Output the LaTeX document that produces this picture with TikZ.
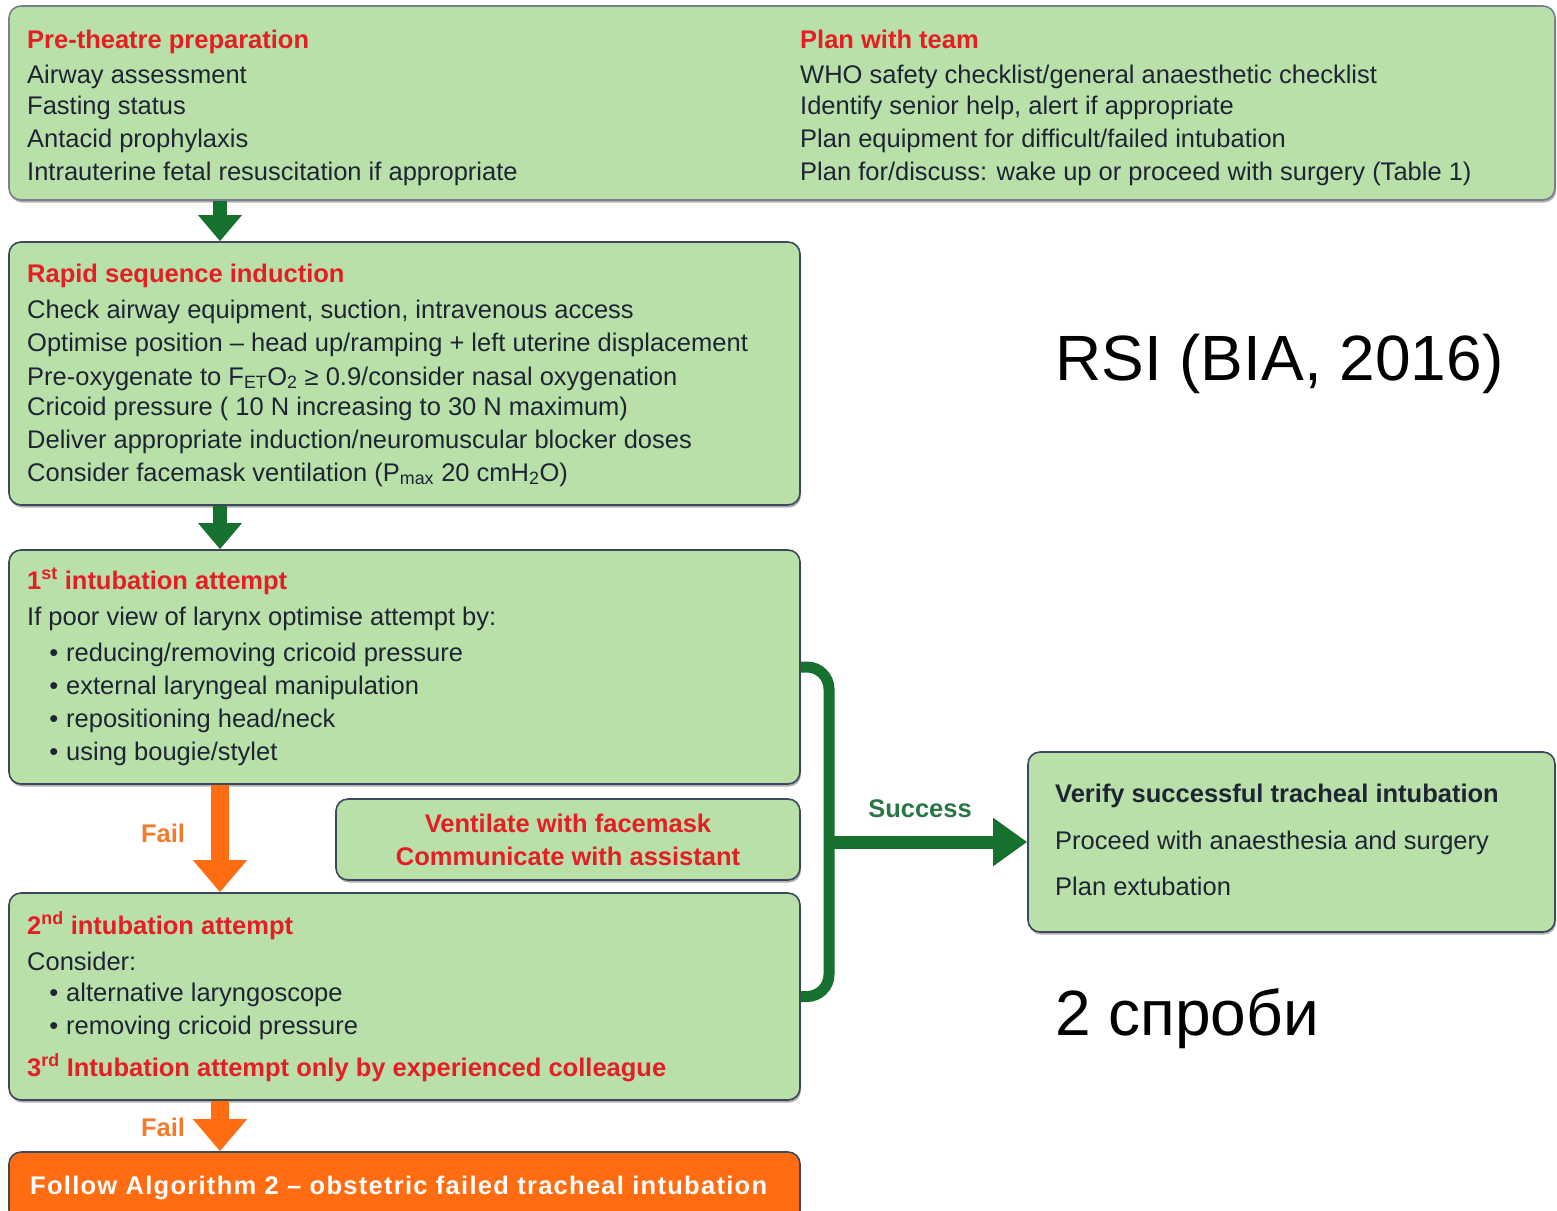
\documentclass[tikz,border=0pt]{standalone}
\usepackage{fontspec}
\setmainfont{Liberation Sans}
\usetikzlibrary{arrows.meta,shadows}

\definecolor{boxfill}{RGB}{185,224,168}
\definecolor{boxline}{RGB}{62,72,92}
\definecolor{ink}{RGB}{30,36,52}
\definecolor{headred}{RGB}{228,30,36}
\definecolor{flowgreen}{RGB}{22,112,46}
\definecolor{succgreen}{RGB}{40,120,70}
\definecolor{flowora}{RGB}{255,108,18}
\definecolor{failora}{RGB}{246,122,44}

\newcommand\bodyfont{\fontsize{25.5}{30}\selectfont}
\newcommand\bigfont{\fontsize{64}{76}\selectfont}

\begin{document}
\begin{tikzpicture}[x=1pt,y=-1pt,
  box/.style={draw=boxline, line width=1.6pt, fill=boxfill, rounded corners=12pt,
    inner sep=0pt, drop shadow={shadow xshift=1pt, shadow yshift=-2.5pt, fill=black!70, opacity=0.45}},
  txt/.style={anchor=base west, inner sep=0pt, font=\bodyfont, text=ink},
  hd/.style={anchor=base west, inner sep=0pt, font=\bodyfont\bfseries, text=headred},
  garrow/.style={draw=flowgreen, line width=14pt, -{Triangle[width=42pt,length=26pt]}},
  oarrow/.style={draw=flowora, line width=18pt, -{Triangle[width=52pt,length=32pt]}},
  bracket/.style={draw=flowgreen, line width=11pt, rounded corners=22pt},
  bigtxt/.style={anchor=base west, inner sep=0pt, font=\bigfont, text=black}]

\useasboundingbox (0,0) rectangle (1557,1210);

% ---------- boxes ----------
\node[box, draw=boxline!70, minimum width=1546pt, minimum height=194pt] (pre) at (782,103) {};
\node[box, minimum width=791pt, minimum height=263pt] (rsi) at (404.5,373.5) {};
\node[box, minimum width=791pt, minimum height=234pt] (first) at (404.5,667) {};
\node[box, minimum width=464pt, minimum height=81pt] (vent) at (568,839.5) {};
\node[box, minimum width=791pt, minimum height=207pt] (second) at (404.5,996.5) {};
\node[box, fill=flowora, minimum width=791pt, minimum height=70pt] (algo) at (404.5,1187) {};
\node[box, minimum width=527pt, minimum height=180pt] (verify) at (1291.5,842) {};

% ---------- pre-theatre / team ----------
\node[hd]  (preH) at (27,48)  {Pre-theatre preparation};
\node[txt] (pre1) at (27,83)  {Airway assessment};
\node[txt] (pre2) at (27,114) {Fasting status};
\node[txt] (pre3) at (27,147) {Antacid prophylaxis};
\node[txt] (pre4) at (27,180) {Intrauterine fetal resuscitation if appropriate};

\node[hd]  (teamH) at (800,48)  {Plan with team};
\node[txt] (team1) at (800,83)  {WHO safety checklist/general anaesthetic checklist};
\node[txt] (team2) at (800,114) {Identify senior help, alert if appropriate};
\node[txt] (team3) at (800,147) {Plan equipment for difficult/failed intubation};
\node[txt] (team4) at (800,180) {Plan for/discuss: wake up or proceed with surgery (Table 1)};

% ---------- rapid sequence induction ----------
\node[hd]  (rsiH) at (27,282) {Rapid sequence induction};
\node[txt] (rsi1) at (27,318) {Check airway equipment, suction, intravenous access};
\node[txt] (rsi2) at (27,351) {Optimise position – head up/ramping + left uterine displacement};
\node[txt] (rsi3) at (27,385) {Pre-oxygenate to F\textsubscript{ET}O\textsubscript{2} ≥ 0.9/consider nasal oxygenation};
\node[txt] (rsi4) at (27,415) {Cricoid pressure ( 10 N increasing to 30 N maximum)};
\node[txt] (rsi5) at (27,448) {Deliver appropriate induction/neuromuscular blocker doses};
\node[txt] (rsi6) at (27,481) {Consider facemask ventilation (P\textsubscript{max} 20 cmH\textsubscript{2}O)};

% ---------- first attempt ----------
\node[hd]  (firstH) at (27,589) {1\textsuperscript{st} intubation attempt};
\node[txt] (first1) at (27,625) {If poor view of larynx optimise attempt by:};
\node[txt] (first2) at (66,661) {\llap{\textbullet\hspace{8pt}}reducing/removing cricoid pressure};
\node[txt] (first3) at (66,694) {\llap{\textbullet\hspace{8pt}}external laryngeal manipulation};
\node[txt] (first4) at (66,727) {\llap{\textbullet\hspace{8pt}}repositioning head/neck};
\node[txt] (first5) at (66,760) {\llap{\textbullet\hspace{8pt}}using bougie/stylet};

% ---------- facemask ----------
\node[hd, anchor=base] (vent1) at (568,832) {Ventilate with facemask};
\node[hd, anchor=base] (vent2) at (568,865) {Communicate with assistant};

% ---------- second attempt ----------
\node[hd]  (secondH) at (27,934) {2\textsuperscript{nd} intubation attempt};
\node[txt] (second1) at (27,970) {Consider:};
\node[txt] (second2) at (66,1001) {\llap{\textbullet\hspace{8pt}}alternative laryngoscope};
\node[txt] (second3) at (66,1034) {\llap{\textbullet\hspace{8pt}}removing cricoid pressure};
\node[hd]  (second4) at (27,1076) {3\textsuperscript{rd} Intubation attempt only by experienced colleague};

% ---------- failed intubation ----------
\node[hd, text=white] (algo1) at (30,1194)
  {\addfontfeature{LetterSpace=5}Follow Algorithm 2 – obstetric failed tracheal intubation};

% ---------- success ----------
\node[txt, font=\bodyfont\bfseries] (verify1) at (1055,802) {Verify successful tracheal intubation};
\node[txt] (verify2) at (1055,849) {Proceed with anaesthesia and surgery};
\node[txt] (verify3) at (1055,895) {Plan extubation};

% ---------- side notes ----------
\node[bigtxt] (title) at (1055,380) {RSI (BIA, 2016)};
\node[bigtxt] (tries) at (1055,1035) {2 спроби};

% ---------- connectors ----------
\coordinate (axis) at (220,0);
\draw[garrow] (pre.south -| axis) -- (rsi.north -| axis);
\draw[garrow] (rsi.south -| axis) -- (first.north -| axis);
\draw[oarrow] (first.south -| axis) -- (second.north -| axis);
\draw[oarrow] (second.south -| axis) -- (algo.north -| axis);
\node[hd, anchor=base, text=failora] (fail1) at (163,842) {Fail};
\node[hd, anchor=base, text=failora] (fail2) at (163,1136) {Fail};

\coordinate (brace) at (829,667);
\draw[bracket] (first.east) -- (brace) |- (second.east);
\draw[draw=flowgreen, line width=13pt, -{Triangle[width=46pt,length=34pt]}]
  (brace |- verify.west) -- (verify.west);
\node[hd, anchor=base, text=succgreen] (succ) at (920,817) {Success};

\end{tikzpicture}
\end{document}
